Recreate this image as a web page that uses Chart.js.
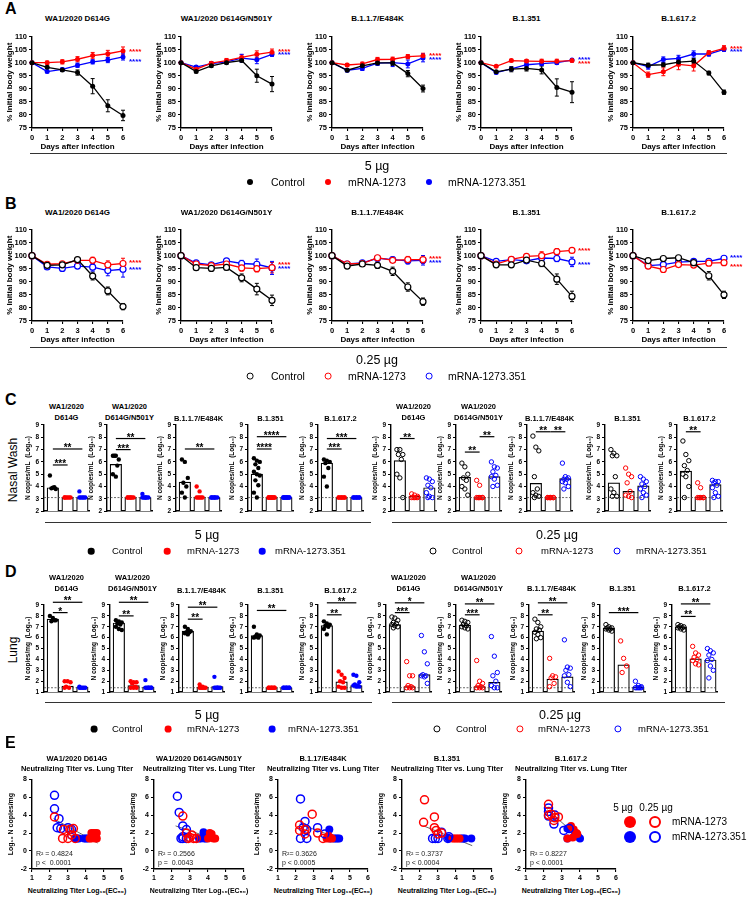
<!DOCTYPE html>
<html>
<head>
<meta charset="utf-8">
<title>Body weight, nasal wash and lung titers</title>
<script src="https://cdn.jsdelivr.net/npm/chart.js@4.4.1/dist/chart.umd.min.js"></script>
<style>
  body { margin: 0; width: 748px; height: 899px; position: relative; overflow: hidden; background: #fff;
         font-family: "Liberation Sans", Arial, sans-serif; color: #000; }
  canvas { position: absolute; }
  .t { position: absolute; white-space: nowrap; line-height: 1; transform: translate(-50%, -50%); }
  .l { position: absolute; white-space: nowrap; line-height: 1; transform: translate(0, -50%); }
  .ttl { font-size: 7.5px; font-weight: bold; }
  .ttlA { font-size: 8px; font-weight: bold; }
  .panel { font-size: 16px; font-weight: bold; }
  .dose { font-size: 12.5px; }
  .legA { font-size: 10.5px; }
  .legC { font-size: 9.5px; }
  .legE { font-size: 10px; }
  .xt { font-size: 7px; font-weight: bold; }
  .rot { font-size: 12px; transform: translate(-50%, -50%) rotate(-90deg); }
  .rule { position: absolute; height: 0; border-top: 1.5px solid #333; }
  .dot { position: absolute; border-radius: 50%; box-sizing: border-box; transform: translate(-50%, -50%); }
</style>
</head>
<body>
<script>
// ---- data ----
const days = [0, 1, 2, 3, 4, 5, 6];
const variants = ['WA1/2020 D614G', 'WA1/2020 D614G/N501Y', 'B.1.1.7/E484K', 'B.1.351', 'B.1.617.2'];
const cdTitles = [['WA1/2020', 'D614G'], ['WA1/2020', 'D614G/N501Y'], ['B.1.1.7/E484K'], ['B.1.351'], ['B.1.617.2']];
const eTitles = ['WA1/2020 D614G', 'WA1/2020 D614G/N501Y', 'B.1.17/E484K', 'B.1.351', 'B.1.617.2'];

// A: body weight, 5 ug
const aControl = [
  [100, 98.2, 97.2, 96.2, 91.0, 83.5, 79.8],
  [100, 96.6, 98.8, 100.0, 100.8, 95.0, 91.8],
  [100, 97.1, 98.8, 99.9, 99.9, 95.8, 90.1],
  [100, 96.5, 97.5, 97.8, 97.2, 90.5, 88.7],
  [100, 99.0, 99.2, 100.2, 100.6, 96.0, 88.7]];
const aControlErr = [
  [0, 0.5, 0.5, 1.0, 2.9, 2.3, 2.0],
  [0, 0.5, 0.5, 0.5, 0.5, 2.5, 2.9],
  [0, 0.5, 0.8, 0.8, 1.0, 1.2, 1.3],
  [0, 0.5, 1.0, 1.0, 1.5, 3.3, 4.0],
  [0, 0.8, 0.8, 0.8, 1.0, 0.7, 0.8]];
const aMrna = [
  [100, 100.0, 100.3, 101.3, 102.7, 103.4, 104.5],
  [100, 97.5, 99.8, 100.8, 102.0, 103.2, 104.0],
  [100, 99.1, 99.5, 101.2, 101.3, 102.3, 102.6],
  [100, 98.6, 100.8, 100.6, 100.5, 100.5, 100.8],
  [100, 95.4, 96.5, 99.3, 98.8, 103.8, 105.5]];
const aMrnaErr = [
  [0, 0.6, 0.8, 1.0, 1.2, 1.3, 1.5],
  [0, 0.5, 0.6, 0.8, 1.0, 1.3, 1.2],
  [0, 0.6, 0.7, 0.8, 0.8, 0.8, 1.0],
  [0, 0.4, 0.5, 0.6, 0.8, 0.8, 0.6],
  [0, 1.0, 1.5, 2.0, 2.0, 0.8, 1.0]];
const aBeta = [
  [100, 96.6, 97.4, 99.0, 100.3, 101.0, 102.2],
  [100, 98.3, 99.6, 100.3, 101.7, 101.1, 103.2],
  [100, 97.1, 97.8, 99.8, 100.0, 99.5, 101.8],
  [100, 96.2, 97.6, 99.2, 99.6, 100.0, 101.0],
  [100, 98.5, 101.2, 101.6, 103.3, 103.3, 105.1]];
const aBetaErr = [
  [0, 0.5, 0.6, 0.8, 0.8, 1.0, 1.2],
  [0, 0.6, 0.7, 0.7, 1.5, 1.5, 0.8],
  [0, 0.6, 0.8, 0.8, 1.5, 1.5, 1.5],
  [0, 0.5, 0.5, 0.6, 0.6, 0.6, 0.5],
  [0, 1.0, 1.0, 1.2, 1.2, 0.8, 0.8]];
const aStars = [[105.1, 101.1], [105.1, 103.7], [103.4, 102.1], [100.5, 101.8], [106.3, 105.1]]; // [red, blue]

// B: body weight, 0.25 ug
const bControl = [
  [100, 96.3, 96.5, 98.5, 92.2, 86.5, 80.5],
  [100, 95.4, 95.1, 95.5, 91.5, 87.2, 82.9],
  [100, 96.0, 96.8, 96.3, 94.0, 88.0, 82.4],
  [100, 96.5, 96.5, 98.3, 97.0, 91.0, 84.4],
  [100, 98.1, 98.9, 99.2, 97.3, 92.3, 85.0]];
const bControlErr = [
  [0, 0.5, 0.8, 0.8, 1.5, 1.5, 1.2],
  [0, 0.5, 0.5, 1.0, 1.5, 2.2, 2.0],
  [0, 0.6, 0.6, 1.2, 1.6, 1.6, 1.4],
  [0, 0.5, 0.8, 0.8, 1.2, 2.0, 2.0],
  [0, 0.5, 0.5, 0.5, 1.0, 1.6, 1.4]];
const bMrna = [
  [100, 96.7, 96.9, 98.2, 98.2, 96.5, 97.0],
  [100, 96.8, 96.2, 96.8, 95.3, 95.0, 95.4],
  [100, 96.8, 97.0, 99.2, 98.2, 98.5, 98.5],
  [100, 96.8, 98.6, 99.7, 100.0, 101.5, 102.0],
  [100, 96.0, 94.7, 96.6, 96.4, 97.1, 97.3]];
const bMrnaErr = [
  [0, 0.8, 0.8, 0.8, 1.2, 1.5, 2.0],
  [0, 0.8, 0.8, 1.0, 1.2, 1.2, 2.0],
  [0, 0.6, 0.6, 0.8, 0.8, 1.2, 1.5],
  [0, 0.6, 0.6, 0.8, 1.5, 1.2, 0.6],
  [0, 0.6, 0.8, 0.8, 0.8, 0.8, 0.8]];
const bBeta = [
  [100, 95.7, 95.1, 96.0, 95.6, 94.3, 94.8],
  [100, 97.2, 96.5, 98.0, 97.0, 96.7, 95.3],
  [100, 96.8, 97.2, 99.0, 98.5, 98.0, 98.2],
  [100, 97.8, 98.5, 98.0, 99.1, 98.9, 97.6],
  [100, 96.2, 96.6, 97.5, 97.8, 97.8, 99.0]];
const bBetaErr = [
  [0, 0.8, 0.8, 0.8, 1.5, 2.0, 3.0],
  [0, 0.8, 0.8, 0.8, 1.2, 2.0, 2.5],
  [0, 0.6, 0.6, 1.0, 1.0, 1.2, 1.8],
  [0, 0.6, 0.6, 0.8, 1.0, 1.2, 1.8],
  [0, 0.6, 0.6, 0.8, 0.8, 0.8, 0.8]];
const bStars = [[98.2, 95.4], [97.2, 95.7], [99.5, 98.0], [102.7, 97.3], [96.7, 99.9]];

// C: nasal wash, log10 N copies/mL
const cLod = 3.1;
const cCtrl5 = [
  [4.9, 3.9, 3.8, 3.85, 3.95],
  [6.5, 6.5, 6.2, 6.5, 5.7, 5.0, 4.8],
  [6.2, 6.0, 4.7, 4.3, 4.0, 3.5, 3.1],
  [6.3, 6.1, 6.0, 5.8, 5.5, 5.2, 5.0, 4.9, 4.5, 4.1, 3.5, 3.1],
  [6.2, 6.1, 6.0, 5.9, 5.5, 4.8, 4.0]];
const cMrna5 = [
  [3.1, 3.1, 3.1, 3.1, 3.1, 3.1],
  [3.1, 3.1, 3.1, 3.1, 3.1, 3.1, 3.1],
  [4.0, 3.6, 3.1, 3.1, 3.1, 3.1, 3.1],
  [3.1, 3.1, 3.1, 3.1, 3.1, 3.1, 3.1, 3.1, 3.1, 3.1, 3.1, 3.1],
  [3.1, 3.1, 3.1, 3.1, 3.1, 3.1, 3.1, 3.1]];
const cBeta5 = [
  [3.6, 3.1, 3.1, 3.1, 3.1, 3.1],
  [3.4, 3.1, 3.1, 3.1, 3.1, 3.1, 3.1],
  [3.1, 3.1, 3.1, 3.1, 3.1, 3.1, 3.1],
  [3.1, 3.1, 3.1, 3.1, 3.1, 3.1, 3.1, 3.1, 3.1, 3.1, 3.1, 3.1],
  [3.1, 3.1, 3.1, 3.1, 3.1, 3.1, 3.1, 3.1]];
const cBar5 = [[3.9, 3.1, 3.1], [5.8, 3.1, 3.1], [4.35, 3.15, 3.1], [5.0, 3.1, 3.1], [5.9, 3.1, 3.1]];
const cSig5 = [
  [[0, 1, 5.75, '***'], [0, 2, 7.05, '**']],
  [[0, 1, 7.0, '***'], [0, 2, 7.9, '**']],
  [[0, 2, 7.05, '**']],
  [[0, 1, 7.05, '****'], [0, 2, 8.05, '****']],
  [[0, 1, 7.05, '***'], [0, 2, 7.9, '***']]];
const cCtrl25 = [
  [7.0, 7.0, 6.6, 6.6, 6.2, 5.0, 4.7, 3.1],
  [5.9, 5.6, 5.0, 4.7, 4.5, 4.0, 3.8, 3.3],
  [8.1, 7.2, 6.9, 4.8, 3.8, 3.5, 3.3, 3.2, 3.1],
  [7.0, 6.7, 6.5, 6.5, 4.8, 3.8, 3.5, 3.2, 3.2],
  [7.7, 6.6, 6.1, 5.7, 5.3, 5.0, 4.8, 4.0, 3.1]];
const cMrna25 = [
  [3.4, 3.3, 3.2, 3.1, 3.1, 3.1, 3.1, 3.1],
  [4.5, 4.1, 3.1, 3.1, 3.1, 3.1, 3.1, 3.1, 3.1],
  [3.1, 3.1, 3.1, 3.1, 3.1, 3.1, 3.1, 3.1, 3.1],
  [5.5, 5.0, 4.8, 4.3, 3.6, 3.3, 3.2, 3.1],
  [4.3, 3.9, 3.1, 3.1, 3.1, 3.1, 3.1, 3.1, 3.1]];
const cBeta25 = [
  [4.7, 4.6, 4.4, 4.1, 3.9, 3.5, 3.2, 3.1, 3.1],
  [6.0, 5.6, 5.5, 5.2, 4.9, 4.8, 4.6, 4.1, 4.0],
  [5.9, 4.8, 4.7, 4.6, 4.6, 4.4, 4.3, 4.0, 3.8],
  [4.8, 4.6, 4.4, 4.2, 4.0, 3.8, 3.5, 3.3, 3.1],
  [4.5, 4.4, 4.4, 4.3, 4.1, 3.9, 3.5, 3.2, 3.1]];
const cBar25 = [[6.1, 3.2, 3.9], [4.75, 3.1, 4.8], [4.25, 3.1, 4.65], [4.3, 3.6, 4.05], [5.25, 3.15, 4.15]];
const cSig25 = [
  [[0, 1, 7.9, '**']],
  [[0, 1, 6.8, '**'], [1, 2, 8.05, '**']],
  [[0, 1, 8.45, '**'], [1, 2, 8.45, '**']],
  [],
  [[0, 1, 8.45, '**']]];

// D: lung, log10 N copies/mg
const dLod = 1.4;
const dCtrl5 = [
  [8.0, 7.8, 7.6, 7.5, 7.6],
  [7.6, 7.5, 7.4, 7.3, 7.2, 7.0, 6.8, 6.7],
  [7.0, 6.8, 6.6, 6.5, 6.5, 6.4, 6.3],
  [7.0, 6.3, 6.2, 6.1, 6.0, 6.0, 6.1],
  [7.5, 7.3, 7.2, 7.1, 7.0, 6.8, 6.3]];
const dMrna5 = [
  [2.0, 2.0, 1.9, 1.5, 1.4, 1.4],
  [2.0, 1.9, 1.9, 1.8, 1.5, 1.4, 1.4, 1.4],
  [1.7, 1.5, 1.4, 1.4, 1.4, 1.4, 1.4],
  [1.4, 1.4, 1.4, 1.4, 1.4, 1.4, 1.4, 1.4],
  [2.9, 2.6, 2.3, 2.0, 1.9, 1.5, 1.4, 1.4]];
const dBeta5 = [
  [1.5, 1.4, 1.4, 1.4, 1.4, 1.4],
  [2.1, 1.4, 1.4, 1.4, 1.4, 1.4, 1.4, 1.4],
  [2.4, 1.4, 1.4, 1.4, 1.4, 1.4, 1.4],
  [1.4, 1.4, 1.4, 1.4, 1.4, 1.4, 1.4, 1.4],
  [2.6, 2.5, 1.9, 1.7, 1.6, 1.6, 1.5, 1.5]];
const dBar5 = [[7.7, 1.55, 1.45], [7.35, 1.6, 1.45], [6.6, 1.45, 1.5], [6.2, 1.4, 1.4], [7.1, 1.95, 1.6]];
const dSig5 = [
  [[0, 1, 8.3, '*'], [0, 2, 9.25, '**']],
  [[0, 1, 8.0, '**'], [0, 2, 9.25, '**']],
  [[0, 1, 7.7, '**'], [0, 2, 8.8, '**']],
  [[0, 2, 8.5, '**']],
  [[0, 1, 8.1, '**'], [0, 2, 9.2, '**']]];
const dCtrl25 = [
  [7.9, 7.8, 7.6, 7.4, 7.3, 7.2, 7.1, 7.0, 6.9],
  [7.6, 7.5, 7.4, 7.2, 7.1, 7.0, 6.9, 6.8],
  [7.7, 7.4, 7.0, 6.8, 6.7, 6.5, 6.3, 6.0, 5.9],
  [7.2, 7.0, 6.9, 6.9, 6.8, 6.8, 6.7, 6.6],
  [7.2, 7.1, 7.0, 7.0, 6.9, 6.9, 6.8, 6.7]];
const dMrna25 = [
  [3.8, 2.5, 2.5, 1.6, 1.5, 1.4, 1.4, 1.4],
  [3.9, 2.0, 1.8, 1.6, 1.5, 1.4, 1.4, 1.4],
  [4.1, 2.5, 2.4, 2.3, 1.8, 1.5],
  [5.7, 4.1, 3.4, 2.8],
  [5.2, 4.6, 4.4, 4.2, 4.0, 3.9, 3.6, 3.5]];
const dBeta25 = [
  [6.2, 4.7, 3.6, 2.6, 2.5, 2.5, 2.4, 1.8],
  [6.1, 4.3, 2.8, 2.5, 2.0, 1.6, 1.4, 1.4],
  [5.8, 3.3, 3.2, 3.0, 2.6, 2.5, 1.9, 1.5],
  [2.0, 1.6, 1.5, 1.4, 1.4, 1.4, 1.4, 1.4],
  [5.0, 4.8, 4.6, 4.4, 4.0, 3.9, 3.4, 3.0, 2.3]];
const dBar25 = [[7.2, 1.5, 2.6], [7.15, 1.5, 1.9], [6.6, 2.2, 2.4], [6.85, 3.5, 1.45], [7.0, 4.05, 3.95]];
const dSig25 = [
  [[0, 1, 8.3, '***'], [0, 2, 9.2, '*']],
  [[0, 1, 8.1, '***'], [0, 2, 9.1, '**']],
  [[0, 1, 8.1, '**'], [0, 2, 9.2, '**']],
  [[0, 2, 8.3, '***']],
  [[0, 1, 7.95, '**'], [0, 2, 9.1, '**']]];

// E: neutralizing titer (log10 EC50) vs lung titer, [x, y]
const eMrna5 = [
  [[4.3, 2.0], [4.4, 2.0], [4.5, 2.0], [4.6, 2.0], [4.2, 1.4], [4.3, 1.4], [4.5, 1.4], [4.6, 1.4]],
  [[4.1, 2.0], [4.2, 1.9], [4.0, 1.4], [4.3, 1.4], [4.4, 1.4]],
  [[3.8, 1.7], [3.9, 1.5], [3.7, 1.4], [3.85, 1.4], [4.0, 1.4]],
  [[3.8, 1.4], [3.9, 1.4], [4.0, 1.4], [4.1, 1.4], [4.2, 1.4]],
  [[3.5, 2.8], [3.65, 2.4], [3.8, 2.0], [3.85, 1.9], [3.3, 1.4], [3.6, 1.5]]];
const eBeta5 = [
  [[3.4, 1.4], [3.5, 1.4], [3.6, 1.4], [3.9, 1.4], [4.0, 1.4], [4.1, 1.4]],
  [[3.75, 2.1], [3.5, 1.4], [3.6, 1.4], [3.8, 1.4], [3.9, 1.4]],
  [[3.85, 2.4], [3.9, 1.4], [4.1, 1.4], [4.2, 1.4], [4.3, 1.4], [4.4, 1.4]],
  [[3.6, 1.4], [4.3, 1.4], [4.4, 1.4], [4.5, 1.4], [4.85, 1.4]],
  [[3.3, 2.5], [3.7, 1.7], [3.9, 1.6], [4.0, 1.4], [3.3, 1.4]]];
const eMrna25 = [
  [[2.25, 3.8], [2.75, 2.4], [2.7, 1.4], [3.0, 1.4], [3.3, 2.5], [3.2, 1.8], [3.1, 2.4], [3.4, 1.4]],
  [[2.6, 3.9], [2.8, 2.0], [3.1, 1.8], [3.2, 1.4], [3.35, 1.4], [2.9, 1.4], [3.0, 1.5]],
  [[2.9, 4.1], [2.2, 2.9], [2.2, 2.3], [2.5, 2.4], [2.5, 1.9], [3.2, 2.0], [3.5, 1.4]],
  [[2.25, 5.7], [2.2, 3.2], [2.8, 3.8], [2.8, 2.6], [2.9, 2.3], [3.0, 1.9], [3.2, 2.0]],
  [[2.25, 5.2], [2.4, 4.1], [2.55, 3.4], [2.8, 3.8], [2.25, 4.0], [2.6, 3.7]]];
const eBeta25 = [
  [[2.25, 6.2], [2.25, 4.7], [2.5, 3.6], [2.4, 2.6], [2.6, 2.5], [3.0, 2.6], [3.2, 2.4], [3.2, 1.8]],
  [[2.3, 6.1], [2.4, 4.3], [2.6, 2.8], [2.8, 2.4], [2.6, 1.6], [2.6, 1.4], [2.8, 1.4], [2.5, 1.4]],
  [[2.25, 5.8], [2.5, 3.3], [2.4, 2.6], [2.6, 2.4], [3.2, 2.6], [3.6, 1.9], [2.25, 1.4], [2.6, 1.4]],
  [[2.7, 1.4], [2.85, 1.4], [3.0, 1.4], [3.2, 2.1], [3.55, 1.4], [3.6, 1.6]],
  [[2.25, 4.8], [2.25, 4.4], [2.25, 3.9], [2.55, 3.0], [2.6, 4.0], [3.1, 2.3], [3.4, 2.5]]];
const eFit = [[2.2, 3.6, 4.65, 0.9], [2.2, 2.8, 4.4, 1.3], [2.2, 3.0, 4.4, 1.4], [2.2, 2.8, 4.9, 0.6], [2.2, 4.6, 4.1, 1.2]];
const eR2 = ['R\u00b2 = 0.4824', 'R\u00b2 = 0.2566', 'R\u00b2= 0.3626', 'R\u00b2 = 0.3737', 'R\u00b2 = 0.8227'];
const eP = ['p <  0.0001', 'p =  0.0043', 'p < 0.0005', 'p < 0.0004', 'p < 0.0001'];

// ---- drawing ----
const RED = '#ff0000', BLUE = '#0000ff', FONT = '"Liberation Sans", Arial, sans-serif';
const GROUP_COLS = ['#000', RED, BLUE];

function txt(s, x, y, cls, left) {
  const d = document.createElement('div');
  d.className = (left ? 'l ' : 't ') + (cls || '');
  d.style.left = x + 'px';
  d.style.top = y + 'px';
  d.textContent = s;
  document.body.appendChild(d);
  return d;
}
function rule(x1, x2, y) {
  const d = document.createElement('div');
  d.className = 'rule';
  d.style.left = x1 + 'px'; d.style.width = (x2 - x1) + 'px'; d.style.top = y + 'px';
  document.body.appendChild(d);
}
function dot(x, y, r, col, open, bw) {
  const d = document.createElement('div');
  d.className = 'dot';
  d.style.left = x + 'px'; d.style.top = y + 'px';
  d.style.width = d.style.height = (2 * r) + 'px';
  if (open) d.style.border = (bw || 1.5) + 'px solid ' + col;
  else d.style.background = col;
  document.body.appendChild(d);
}
function legend(y, xs, open, r, cls) {
  ['Control', 'mRNA-1273', 'mRNA-1273.351'].forEach((name, g) => {
    dot(xs[g][0], y, r, GROUP_COLS[g], open, 1.6);
    txt(name, xs[g][1], y, cls, true);
  });
}
// canvas whose plot area lands at (l, t) with size w x h
function canvasAt(l, t, w, h, yw, xh, pt, pr) {
  const c = document.createElement('canvas');
  c.width = yw + w + pr;
  c.height = pt + h + xh;
  c.style.left = (l - yw) + 'px';
  c.style.top = (t - pt) + 'px';
  document.body.appendChild(c);
  return c;
}
function yAxis(min, max, step, title, size, titleSize, yw, titlePad) {
  return {
    type: 'linear', min: min, max: max, offset: false,
    afterFit: s => { s.width = yw; },
    border: { color: '#000', width: 1.4 },
    grid: { drawOnChartArea: false, tickLength: 3, color: '#000', lineWidth: 1.1 },
    ticks: { stepSize: step, color: '#000', padding: 2, autoSkip: false, font: { family: FONT, size: size, weight: 'bold' } },
    title: { display: !!title, text: title, color: '#000', padding: { top: titlePad, bottom: 0 },
             font: { family: FONT, size: titleSize, weight: 'bold' } }
  };
}
function xAxis(min, max, step, title, size, titleSize, xh) {
  return {
    type: 'linear', min: min, max: max, offset: false,
    afterFit: s => { s.height = xh; },
    border: { color: '#000', width: 1.4 },
    grid: { drawOnChartArea: false, tickLength: 3, color: '#000', lineWidth: 1.1 },
    ticks: { stepSize: step, color: '#000', padding: 2, maxRotation: 0, autoSkip: false,
             font: { family: FONT, size: size, weight: 'bold' } },
    title: { display: !!title, text: title, color: '#000', padding: { top: 0, bottom: 0 },
             font: { family: FONT, size: titleSize, weight: 'bold' } }
  };
}
function baseOptions(scales, pt, pr) {
  return {
    responsive: false, animation: false, devicePixelRatio: 1, events: [],
    layout: { autoPadding: false, padding: { top: pt, right: pr, left: 0, bottom: 0 } },
    plugins: { legend: { display: false }, tooltip: { enabled: false } },
    scales: scales
  };
}

// error bars from dataset.errs (SEM)
const errorBars = {
  id: 'errorBars',
  beforeDatasetsDraw(chart) {
    const ctx = chart.ctx, y = chart.scales.y;
    chart.data.datasets.forEach((ds, i) => {
      if (!ds.errs) return;
      const meta = chart.getDatasetMeta(i);
      ctx.save();
      ctx.strokeStyle = ds.borderColor;
      ctx.lineWidth = 1;
      meta.data.forEach((pt, j) => {
        const e = ds.errs[j];
        if (!e) return;
        const v = ds.data[j].y;
        const y1 = y.getPixelForValue(v - e), y2 = y.getPixelForValue(v + e);
        ctx.beginPath();
        ctx.moveTo(pt.x, y1); ctx.lineTo(pt.x, y2);
        ctx.moveTo(pt.x - 2, y1); ctx.lineTo(pt.x + 2, y1);
        ctx.moveTo(pt.x - 2, y2); ctx.lineTo(pt.x + 2, y2);
        ctx.stroke();
      });
      ctx.restore();
    });
  }
};
function starMarks(list) {
  return {
    id: 'stars',
    afterDatasetsDraw(chart) {
      const ctx = chart.ctx, a = chart.chartArea, y = chart.scales.y;
      ctx.save();
      ctx.font = 'bold 8px ' + FONT;
      list.forEach(s => {
        ctx.fillStyle = s[1];
        ctx.fillText('****', a.right + 6, y.getPixelForValue(s[0]) + 4.5);
      });
      ctx.restore();
    }
  };
}
function sigBars(list) {
  return {
    id: 'sig',
    afterDraw(chart) {
      const ctx = chart.ctx, x = chart.scales.x, y = chart.scales.y;
      ctx.save();
      ctx.strokeStyle = '#000'; ctx.fillStyle = '#000'; ctx.lineWidth = 1.2;
      ctx.font = 'bold 10px ' + FONT; ctx.textAlign = 'center';
      list.forEach(s => {
        const py = y.getPixelForValue(s[2]), x1 = x.getPixelForValue(s[0]), x2 = x.getPixelForValue(s[1]);
        ctx.beginPath(); ctx.moveTo(x1, py); ctx.lineTo(x2, py); ctx.stroke();
        ctx.fillText(s[3], (x1 + x2) / 2, py + 2);
      });
      ctx.restore();
    }
  };
}
function fitStats(r2, p) {
  return {
    id: 'fitStats',
    afterDraw(chart) {
      const ctx = chart.ctx, a = chart.chartArea, y = chart.scales.y;
      ctx.save();
      ctx.font = '7px ' + FONT; ctx.fillStyle = '#222'; ctx.textBaseline = 'middle';
      ctx.fillText(r2, a.left + 4, y.getPixelForValue(-0.3));
      ctx.fillText(p, a.left + 4, y.getPixelForValue(-1.3));
      ctx.restore();
    }
  };
}

// weight curves (A, B)
function weightPanel(top, titleY, open, ctrl, ctrlErr, mrna, mrnaErr, beta, betaErr, stars) {
  [32, 181, 332, 481, 633].forEach((left, k) => {
    txt(variants[k], left + 45.5, titleY, 'ttlA');
    const cv = canvasAt(left, top, 91, 92, 32, 24, 6, 28);
    const series = (vals, errs, col) => ({
      data: days.map((d, i) => ({ x: d, y: vals[k][i] })), errs: errs[k],
      borderColor: col, backgroundColor: col, borderWidth: 1.3, tension: 0, clip: false,
      pointRadius: open ? 3 : 2.5, pointBorderWidth: open ? 1.2 : 0,
      pointBorderColor: col, pointBackgroundColor: open ? '#fff' : col
    });
    new Chart(cv, {
      type: 'line',
      data: { datasets: [series(ctrl, ctrlErr, '#000'), series(mrna, mrnaErr, RED), series(beta, betaErr, BLUE)] },
      options: baseOptions({
        x: xAxis(0, 6, 1, 'Days after infection', 7.5, 8, 24),
        y: yAxis(75, 110, 5, '% Initial body weight', 7.5, 8, 32, 5.3)
      }, 6, 28),
      plugins: [errorBars, starMarks([[stars[k][0], RED], [stars[k][1], BLUE]])]
    });
  });
}

// bars with individual animals (C, D)
const jitter = i => ((i * 2) % 5 - 2) * 0.1;
function copiesPanel(top, bottom, yMin, lod, yTitle, lefts, titleYs, open, ctrl, mrna, beta, bars, sig) {
  const w = 45, xMin = -0.6, xMax = 2.45;
  lefts.forEach((left, k) => {
    const lines = cdTitles[k];
    if (lines.length === 2) {
      txt(lines[0], left + w / 2, titleYs[0], 'ttl');
      txt(lines[1], left + w / 2, titleYs[0] + 11, 'ttl');
    } else {
      txt(lines[0], left + w / 2, titleYs[1], 'ttl');
    }
    const cv = canvasAt(left, top, w, bottom - top, 24, 2, 18, 4);
    const datasets = [
      { type: 'bar', data: bars[k].map((v, g) => ({ x: g, y: v })), backgroundColor: '#fff',
        borderColor: '#000', borderWidth: 1.2, barThickness: w / (xMax - xMin) * 0.78, order: 2 },
      { type: 'line', data: [{ x: xMin, y: lod }, { x: xMax, y: lod }], borderColor: '#444',
        borderWidth: 0.8, borderDash: [2, 1.5], pointRadius: 0, order: 1 }
    ];
    [ctrl[k], mrna[k], beta[k]].forEach((vals, g) => datasets.push({
      type: 'line', showLine: false, clip: false, order: 0,
      data: vals.map((v, i) => ({ x: g + jitter(i), y: v })),
      pointRadius: 2.2, pointBorderWidth: open ? 1 : 0,
      pointBorderColor: GROUP_COLS[g], pointBackgroundColor: open ? 'rgba(0,0,0,0)' : GROUP_COLS[g]
    }));
    new Chart(cv, {
      type: 'bar',
      data: { datasets: datasets },
      options: baseOptions({
        x: { type: 'linear', min: xMin, max: xMax, offset: false, afterFit: s => { s.height = 2; },
             border: { color: '#000', width: 1.4 }, grid: { display: false }, ticks: { display: false } },
        y: yAxis(yMin, 9, 1, yTitle, 6.5, 6.5, 24, 4.4)
      }, 18, 4),
      plugins: [sigBars(sig[k])]
    });
  });
}

// titer vs lung titer (E)
function titerPanel() {
  [32, 154, 278, 402, 526].forEach((left, k) => {
    txt(eTitles[k], left + 45, 759, 'ttl');
    txt('Neutralizing Titer vs. Lung Titer', left + 45, 769, 'ttl');
    txt('Neutralizing Titer Log\u2081\u2080(EC\u2085\u2080)', left + 45, 890, 'xt');
    const cv = canvasAt(left, 779, 90, 90, 30, 26, 6, 6);
    const pts = (arr, col, open) => ({
      data: arr[k].map(p => ({ x: p[0], y: p[1] })), clip: false, order: 0,
      pointRadius: 4, pointBorderWidth: open ? 1.5 : 0, pointBorderColor: col,
      pointBackgroundColor: open ? 'rgba(0,0,0,0)' : col
    });
    const f = eFit[k];
    new Chart(cv, {
      type: 'scatter',
      data: { datasets: [
        { type: 'line', data: [{ x: f[0], y: f[1] }, { x: f[2], y: f[3] }], borderColor: '#555',
          borderWidth: 0.9, pointRadius: 0, order: 1 },
        pts(eMrna25, RED, true), pts(eBeta25, BLUE, true), pts(eMrna5, RED, false), pts(eBeta5, BLUE, false)
      ] },
      options: baseOptions({
        x: xAxis(1, 6, 1, '', 7, 7, 26),
        y: yAxis(-2, 8, 2, 'Log\u2081\u2080 N copies/mg', 7, 7, 30, 4.8)
      }, 6, 6),
      plugins: [fitStats(eR2[k], eP[k])]
    });
  });
}

// panel A
txt('A', 5, 9, 'panel', true);
weightPanel(36, 19, false, aControl, aControlErr, aMrna, aMrnaErr, aBeta, aBetaErr, aStars);
rule(30, 727, 153);
txt('5 \u00b5g', 377, 166, 'dose');
legend(182, [[250, 271], [328, 348], [429, 448]], false, 3, 'legA');

// panel B
txt('B', 5, 204, 'panel', true);
weightPanel(229, 213, true, bControl, bControlErr, bMrna, bMrnaErr, bBeta, bBetaErr, bStars);
rule(30, 727, 347);
txt('0.25 \u00b5g', 377, 360, 'dose');
legend(376, [[250, 271], [328, 348], [429, 448]], true, 3.4, 'legA');

// panel C
txt('C', 5, 400, 'panel', true);
txt('Nasal Wash', 13, 470, 'rot');
copiesPanel(425, 515, 2, cLod, 'N copies/mL  (Log\u2081\u2080)', [44, 107, 176, 248, 318], [407, 419], false,
  cCtrl5, cMrna5, cBeta5, cBar5, cSig5);
copiesPanel(425, 515, 2, cLod, 'N copies/mL  (Log\u2081\u2080)', [391, 456, 527, 605, 677], [407, 419], true,
  cCtrl25, cMrna25, cBeta25, cBar25, cSig25);
rule(45, 371, 522);
rule(392, 727, 522);
txt('5 \u00b5g', 207, 535, 'dose');
txt('0.25 \u00b5g', 557, 535, 'dose');
legend(551, [[91, 112], [167, 187], [262, 275]], false, 3.3, 'legC');
legend(551, [[433, 452], [519, 541], [617, 636]], true, 3.5, 'legC');

// panel D
txt('D', 5, 572, 'panel', true);
txt('Lung', 13, 650, 'rot');
copiesPanel(605, 696, 1, dLod, 'N copies/mg  (Log\u2081\u2080)', [44, 110, 179, 248, 318], [578, 591], false,
  dCtrl5, dMrna5, dBeta5, dBar5, dSig5);
copiesPanel(605, 696, 1, dLod, 'N copies/mg  (Log\u2081\u2080)', [386, 456, 529, 600, 672], [578, 589], true,
  dCtrl25, dMrna25, dBeta25, dBar25, dSig25);
rule(45, 372, 702);
rule(392, 725, 702);
txt('5 \u00b5g', 207, 715, 'dose');
txt('0.25 \u00b5g', 560, 715, 'dose');
legend(729, [[94, 112], [168, 187], [272, 288]], false, 3.4, 'legC');
legend(729, [[437, 456], [520, 538], [618, 638]], true, 3.6, 'legC');

// panel E
txt('E', 5, 743, 'panel', true);
titerPanel();
txt('5 \u00b5g', 623, 808, 'legE');
txt('0.25 \u00b5g', 656, 808, 'legE');
dot(630, 822, 6, RED, false); dot(655, 822, 6, RED, true, 2);
txt('mRNA-1273', 672, 822, 'legE', true);
dot(630, 837, 6, BLUE, false); dot(655, 837, 6, BLUE, true, 2);
txt('mRNA-1273.351', 672, 837, 'legE', true);
</script>
</body>
</html>
